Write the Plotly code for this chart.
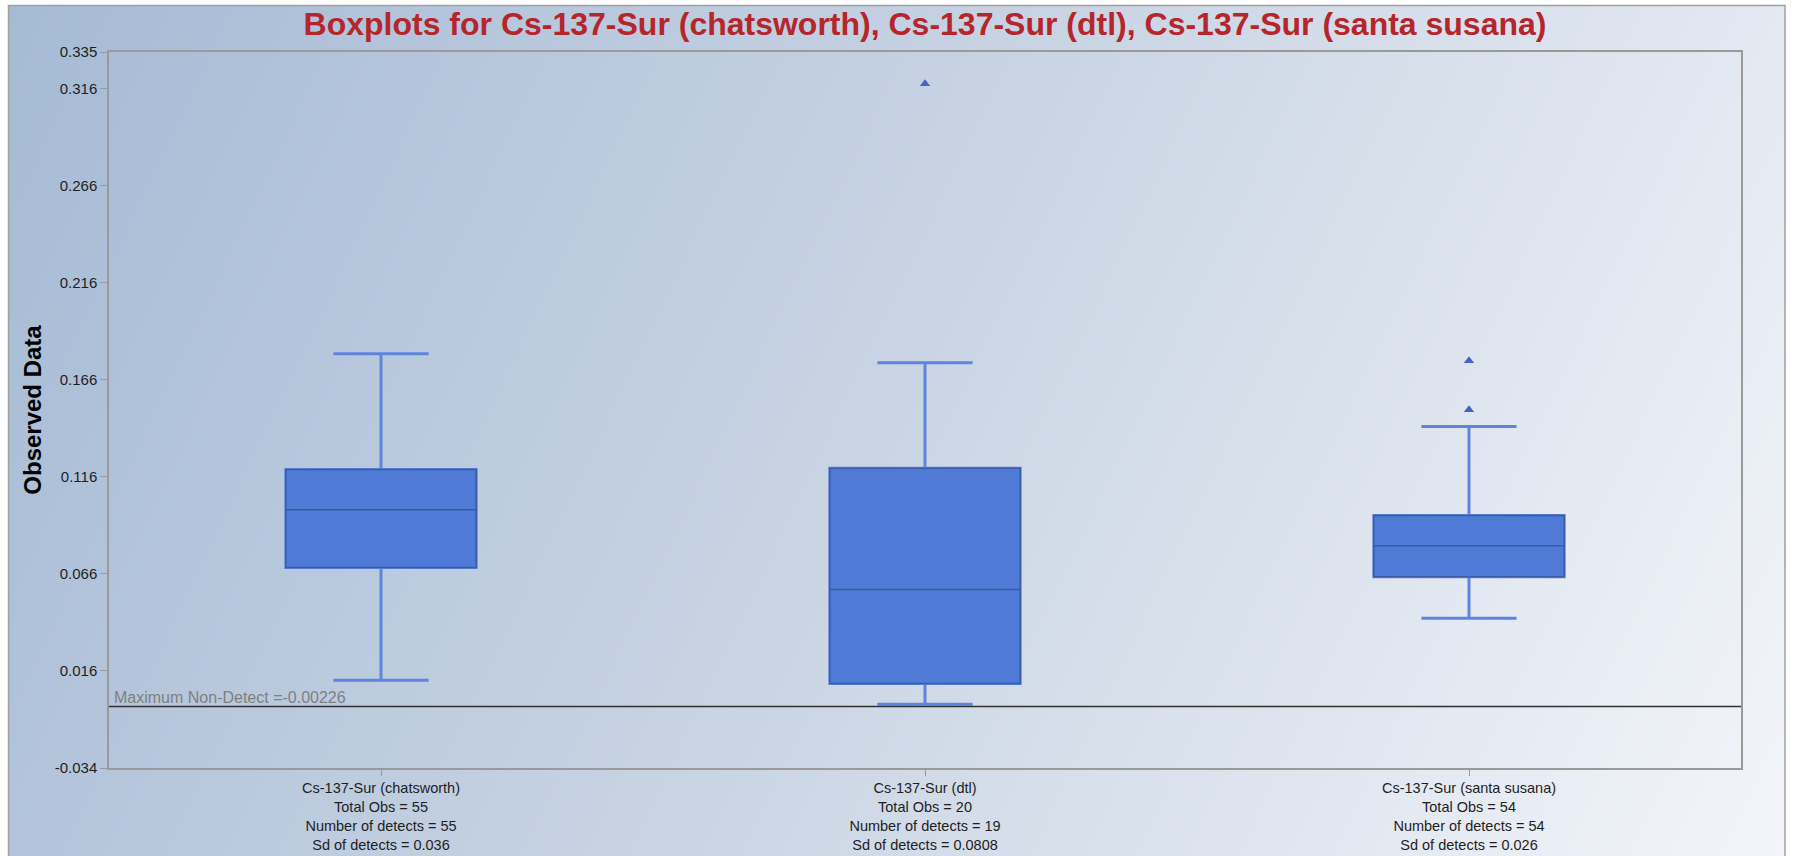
import base64
import plotly.graph_objects as go

# ---------------- data ----------------
categories = ["Cs-137-Sur (chatsworth)", "Cs-137-Sur (dtl)", "Cs-137-Sur (santa susana)"]
total_obs = [55, 20, 54]
num_detects = [55, 19, 54]
sd_detects = ["0.036", "0.0808", "0.026"]

lower_whisker = [0.0112, -0.0011, 0.0432]
q1 = [0.0693, 0.0096, 0.0646]
median = [0.0991, 0.0580, 0.0806]
q3 = [0.1198, 0.1205, 0.0961]
upper_whisker = [0.1795, 0.1749, 0.1420]

outlier_category = ["Cs-137-Sur (dtl)", "Cs-137-Sur (santa susana)", "Cs-137-Sur (santa susana)"]
outlier_values = [0.3186, 0.1759, 0.1506]

max_non_detect = -0.00226
y_tick_vals = [-0.034, 0.016, 0.066, 0.116, 0.166, 0.216, 0.266, 0.316, 0.335]
y_tick_text = ["-0.034", "0.016", "0.066", "0.116", "0.166", "0.216", "0.266", "0.316", "0.335"]

title_text = "Boxplots for Cs-137-Sur (chatsworth), Cs-137-Sur (dtl), Cs-137-Sur (santa susana)"

# ---------------- layout geometry ----------------
W, H = 1794, 856
ML, MR, MT, MB = 109, 53, 52, 88
PW, PH = W - ML - MR, H - MT - MB

positions = list(range(len(categories)))
tick_text = [
    f"{c}<br>Total Obs = {t}<br>Number of detects = {n}<br>Sd of detects = {s}"
    for c, t, n, s in zip(categories, total_obs, num_detects, sd_detects)
]

FONT = "Liberation Sans, Arial, sans-serif"
BOX_FILL = "#4f7bd6"
BOX_LINE = "#3b5ba5"
WHISK = "#5d85de"

fig = go.Figure()

# whiskers (light, thick)
fig.add_trace(go.Box(
    x=positions, q1=q1, median=median, q3=q3,
    lowerfence=lower_whisker, upperfence=upper_whisker,
    width=0.35, whiskerwidth=0.5,
    line=dict(color=WHISK, width=3),
    fillcolor=BOX_FILL, boxpoints=False, hoverinfo="skip", showlegend=False,
))
# box body (dark outline)
fig.add_trace(go.Box(
    x=positions, q1=q1, median=median, q3=q3,
    lowerfence=q1, upperfence=q3,
    width=0.35, whiskerwidth=0.5,
    line=dict(color=BOX_LINE, width=1.5),
    fillcolor=BOX_FILL, boxpoints=False, showlegend=False,
))
# outliers
fig.add_trace(go.Scatter(
    x=[categories.index(c) for c in outlier_category], y=outlier_values,
    mode="markers",
    marker=dict(symbol="triangle-up", size=9, color="#3f66c8", line=dict(width=0)),
    showlegend=False,
))

# maximum non-detect line
fig.add_shape(type="line", xref="paper", x0=0, x1=1, yref="y",
              y0=max_non_detect, y1=max_non_detect,
              line=dict(color="#303030", width=1.5))
fig.add_annotation(xref="paper", x=0.0, yref="y", y=max_non_detect,
                   text=f"Maximum Non-Detect ={max_non_detect}",
                   showarrow=False, xanchor="left", yanchor="bottom", yshift=-2, xshift=3,
                   font=dict(family=FONT, size=16, color="#808080"))

# background gradient via SVG image
svg = f'''<svg xmlns="http://www.w3.org/2000/svg" width="{W}" height="{H}" viewBox="0 0 {W} {H}">
<defs><linearGradient id="g" x1="0" y1="0" x2="{W}" y2="{H}" gradientUnits="userSpaceOnUse">
<stop offset="0" stop-color="#a5bad5"/>
<stop offset="0.5" stop-color="#cad5e4"/>
<stop offset="1" stop-color="#f3f5fa"/>
</linearGradient></defs>
<rect x="0" y="0" width="{W}" height="{H}" fill="#ffffff"/>
<rect x="8.5" y="5.5" width="{1785-8.5}" height="{H}" fill="url(#g)" stroke="#a0a0a0" stroke-width="1.5"/>
</svg>'''
src = "data:image/svg+xml;base64," + base64.b64encode(svg.encode()).decode()
fig.add_layout_image(dict(
    source=src, xref="paper", yref="paper",
    x=-ML / PW, y=1 + MT / PH, sizex=W / PW, sizey=H / PH,
    xanchor="left", yanchor="top", sizing="stretch", layer="below",
))

fig.update_layout(
    width=W, height=H,
    margin=dict(l=ML, r=MR, t=MT, b=MB, autoexpand=False),
    paper_bgcolor="white", plot_bgcolor="rgba(0,0,0,0)",
    boxmode="overlay",
    title=dict(text=f"<b>{title_text}</b>", x=(ML + PW / 2) / W, xanchor="center",
               y=1 - 24 / H, yanchor="middle",
               font=dict(family=FONT, size=32, color="#b5262b")),
    font=dict(family=FONT, size=14, color="#1e1e1e"),
    xaxis=dict(range=[-0.5, 2.5], tickvals=positions, ticktext=tick_text,
               showgrid=False, zeroline=False, showline=True, mirror=True,
               linecolor="#9a9a9a", linewidth=1.5, automargin=False,
               ticks="outside", ticklen=6, tickcolor="#9a9a9a", tickwidth=1,
               tickfont=dict(size=14.5)),
    yaxis=dict(range=[-0.034, 0.335], tickvals=y_tick_vals, ticktext=y_tick_text,
               showgrid=False, zeroline=False, showline=True, mirror=True,
               linecolor="#9a9a9a", linewidth=1.5, automargin=False,
               ticks="outside", ticklen=7, tickcolor="#9a9a9a", tickwidth=1,
               tickfont=dict(size=15),
               title=dict(text="<b>Observed Data</b>", standoff=6,
                          font=dict(size=24, color="#000000"))),
)

fig.write_html("out.html",
               config={"displayModeBar": False},
               post_script="document.body.style.margin='0';document.body.style.overflow='hidden';")
